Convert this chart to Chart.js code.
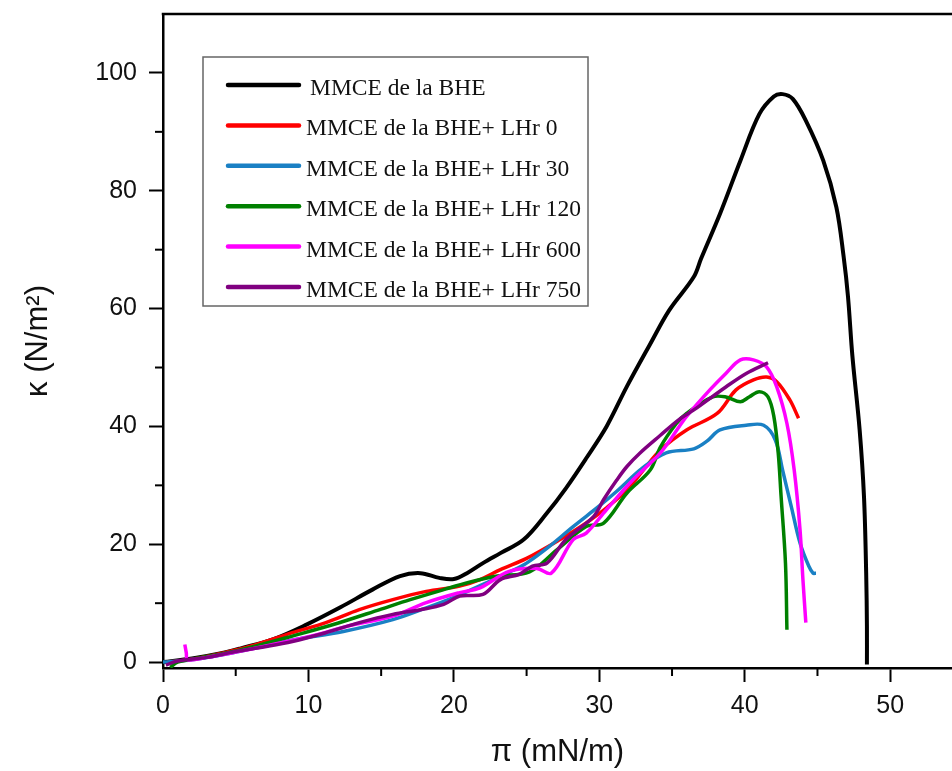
<!DOCTYPE html>
<html>
<head>
<meta charset="utf-8">
<script src="https://cdn.jsdelivr.net/npm/chart.js@4/dist/chart.umd.min.js"></script>
<style>html,body{margin:0;padding:0;background:#fff;overflow:hidden}</style>
</head>
<body>
<canvas id="c" width="952" height="771"></canvas>
<script>
// ---- data ----
const seriesLabels = [
  'MMCE de la BHE',
  'MMCE de la BHE+ LHr 0',
  'MMCE de la BHE+ LHr 30',
  'MMCE de la BHE+ LHr 120',
  'MMCE de la BHE+ LHr 600',
  'MMCE de la BHE+ LHr 750'
];
const seriesColors = ['#000000', '#ff0000', '#1a80c4', '#008000', '#ff00ff', '#800080'];

const xTickValues = [0, 10, 20, 30, 40, 50];
const yTickValues = [0, 20, 40, 60, 80, 100];
const xMinorTicks = [5, 15, 25, 35, 45];
const yMinorTicks = [10, 30, 50, 70, 90];

const bhe = [[0,0],[2,0.6],[4,1.5],[5.3,2.3],[7.6,3.9],[9.9,6.4],[12.2,9.3],[14.4,12.3],[16.3,14.6],[17.7,15.1],[19,14.3],[20,14.1],[20.9,15.1],[22,16.8],[23.2,18.5],[24.8,20.8],[26.4,25.3],[27.7,29.5],[29.1,34.6],[30.5,40],[31.9,46.8],[33.5,54],[34.8,59.7],[36.5,65.4],[37,68.5],[38.3,76.1],[39.7,85.1],[41,93],[42,96],[42.6,96.4],[43.3,95.6],[44.2,91.9],[45.4,85.1],[46.3,77.2],[46.8,68.8],[47.1,62],[47.4,52],[47.9,39.4],[48.2,28],[48.35,15],[48.4,6],[48.4,-0.4]];
const lhr0 = [[0.3,0],[2,0.5],[4,1.5],[6,2.7],[8.9,5],[11.2,6.7],[13.5,8.9],[15.8,10.6],[18.1,12],[20.4,12.9],[21.8,14],[23.2,15.7],[25,17.6],[27.3,20.8],[29.1,23.6],[30.5,26.2],[31.9,29.2],[33,32.5],[34.2,36],[36,39.4],[38.1,42.2],[39.4,46.2],[40.6,47.9],[41.5,48.4],[42.2,47.6],[43.1,44.5],[43.7,41.4]];
const lhr30 = [[0,0],[2,0.4],[4,1.2],[6,2.2],[9,3.8],[12.4,5.2],[15.8,7.2],[18.1,9.2],[20,11],[22,13.2],[24,15.5],[25,16.8],[26.5,19.5],[28.2,23],[30,26.5],[31.2,29],[33,33],[34.6,35.5],[36.5,36.2],[37.4,37.5],[38.3,39.4],[40.1,40.2],[41.3,40.2],[42.1,37.7],[42.6,32.6],[43.2,26.4],[43.8,20.2],[44.4,16.3],[44.7,15.1],[44.9,15.1]];
const lhr120 = [[0.5,-0.9],[1,0],[2,0.5],[4,1.4],[6,2.5],[9,4.5],[12,6.6],[15,9],[17,10.6],[19.3,12.3],[21,13.5],[23,14.6],[25.2,15.3],[27.1,19.1],[29.1,23],[30.3,23.6],[31.9,28.7],[33.5,32.6],[34.2,36.5],[35.3,40.5],[36,42.2],[37.8,45],[38.7,45],[39.7,44.2],[40.3,45],[41,45.9],[41.6,45],[42,41.7],[42.3,35.5],[42.5,28.1],[42.8,16.8],[42.9,5.5]];
const lhr600 = [[1.5,3],[1.6,1.6],[1.7,0.4],[3,0.8],[5,1.7],[7,2.7],[10,4.3],[13,6.3],[15.8,7.8],[18.1,10.1],[20.4,11.8],[21.8,12.6],[23.8,15.4],[25.7,15.9],[26.7,15.1],[28.2,20.8],[29.1,21.9],[30.5,25.9],[32.3,30.9],[34.2,35.5],[35.5,40],[36,41.7],[37.6,46.2],[38.7,49],[39.7,51.3],[40.6,51.3],[41.5,50.1],[42.2,46.7],[42.9,40.5],[43.4,32.6],[43.8,22.5],[44,14],[44.2,6.7]];
const lhr750 = [[0.2,-0.5],[1,0.2],[3,0.8],[5,1.8],[7,2.6],[8.9,3.5],[11.2,5],[13.5,6.7],[15.8,8.1],[17.7,8.9],[19.3,9.8],[20.4,11.2],[22,11.5],[23.2,14],[24.5,14.9],[25.4,16.3],[26.4,16.8],[27.7,20.8],[29.6,24.7],[30.3,27.6],[31.2,30.9],[31.9,33.2],[32.8,35.5],[34.2,38.5],[35.5,41.2],[36.5,42.8],[38.7,46.7],[40.1,49],[41.6,50.8]];

const seriesList = [bhe, lhr0, lhr30, lhr120, lhr600, lhr750];

// ---- extra drawing: frame top, minor ticks, boxed legend ----
const refinements = {
  id: 'refinements',
  afterDraw(chart) {
    const {ctx, chartArea: a, scales: {x, y}} = chart;
    ctx.save();
    ctx.strokeStyle = '#000';
    ctx.lineWidth = 2.5;
    ctx.beginPath();
    ctx.moveTo(a.left - 1.25, a.top);
    ctx.lineTo(a.right, a.top);
    ctx.stroke();

    ctx.lineWidth = 2;
    xMinorTicks.forEach(v => {
      const px = x.getPixelForValue(v);
      ctx.beginPath(); ctx.moveTo(px, a.bottom); ctx.lineTo(px, a.bottom + 8); ctx.stroke();
    });
    yMinorTicks.forEach(v => {
      const py = y.getPixelForValue(v);
      ctx.beginPath(); ctx.moveTo(a.left, py); ctx.lineTo(a.left - 8, py); ctx.stroke();
    });

    // legend
    const lx = 203, ly = 57, lw = 385, lh = 249;
    ctx.fillStyle = '#fff';
    ctx.fillRect(lx, ly, lw, lh);
    ctx.strokeStyle = '#666';
    ctx.lineWidth = 1.5;
    ctx.strokeRect(lx, ly, lw, lh);
    ctx.font = '23.5px "Liberation Serif", "Times New Roman", serif';
    ctx.textAlign = 'left';
    ctx.textBaseline = 'alphabetic';
    chart.data.datasets.forEach((ds, i) => {
      const ry = 85 + i * 40.4;
      ctx.strokeStyle = ds.borderColor;
      ctx.lineWidth = 4.5;
      ctx.lineCap = 'round';
      ctx.beginPath(); ctx.moveTo(228, ry); ctx.lineTo(299, ry); ctx.stroke();
      ctx.fillStyle = '#111';
      ctx.fillText(ds.label, i === 0 ? 310 : 306, ry + 10);
    });
    ctx.restore();
  }
};

const axisFont = {family: '"Liberation Sans", Arial, sans-serif', size: 25};
const titleFont = {family: '"Liberation Sans", Arial, sans-serif', size: 31};

new Chart(document.getElementById('c'), {
  type: 'line',
  data: {
    datasets: seriesList.map((pts, i) => ({
      label: seriesLabels[i],
      data: pts.map(([px, py]) => ({x: px, y: py})),
      borderColor: seriesColors[i],
      backgroundColor: seriesColors[i],
      borderWidth: i === 0 ? 4 : 3.5,
      pointRadius: 0,
      tension: 0.35,
      fill: false,
      order: seriesList.length - i
    }))
  },
  options: {
    responsive: false,
    animation: false,
    devicePixelRatio: 1,
    layout: {padding: {top: 14, left: 0, right: 0, bottom: 0}},
    plugins: {legend: {display: false}, tooltip: {enabled: false}},
    scales: {
      x: {
        type: 'linear', min: 0, max: 54.25,
        afterBuildTicks: ax => { ax.ticks = xTickValues.map(v => ({value: v})); },
        afterFit: s => { s.height = 103; s.paddingLeft = 0; s.paddingRight = 0; },
        grid: {drawOnChartArea: false, tickLength: 14, tickWidth: 2, tickColor: '#000'},
        border: {display: true, color: '#000', width: 2.5},
        ticks: {color: '#111', font: axisFont, padding: 9, maxRotation: 0},
        title: {display: true, text: 'π (mN/m)', color: '#111', font: titleFont, padding: {top: 0, bottom: 0}}
      },
      y: {
        type: 'linear', min: -1, max: 110,
        afterBuildTicks: ax => { ax.ticks = yTickValues.map(v => ({value: v})); },
        afterFit: s => { s.width = 163; s.paddingTop = 0; s.paddingBottom = 0; },
        grid: {drawOnChartArea: false, tickLength: 14, tickWidth: 2, tickColor: '#000'},
        border: {display: true, color: '#000', width: 2.5},
        ticks: {color: '#111', font: axisFont, padding: 12},
        title: {display: true, text: 'κ (N/m²)', color: '#111', font: titleFont, padding: {top: 20, bottom: 0}}
      }
    }
  },
  plugins: [refinements]
});
</script>
</body>
</html>
